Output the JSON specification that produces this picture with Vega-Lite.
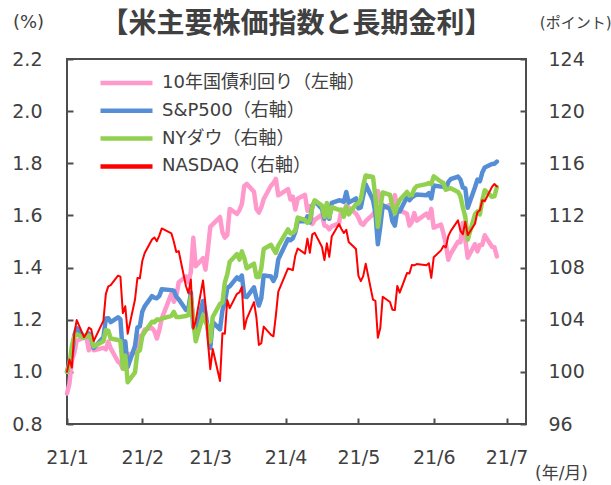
{
  "$schema": "https://vega.github.io/schema/vega-lite/v6.json",
  "width": 459,
  "height": 365,
  "autosize": {"type": "none"},
  "padding": {"left": 67, "top": 59, "right": 85, "bottom": 61},
  "background": "white",
  "config": {
    "font": "DejaVu Sans, Noto Sans CJK JP",
    "view": {"stroke": "#4d4d4d", "strokeWidth": 2},
    "axis": {
      "grid": false, "domain": false, "tickColor": "#4d4d4d", "tickWidth": 2, "tickSize": -6,
      "labelFont": "DejaVu Sans", "labelFontSize": 19, "labelColor": "#404040",
      "labelFlush": false, "labelBound": false, "labelOverlap": false,
      "titleFont": "DejaVu Sans, Noto Sans CJK JP", "titleFontWeight": "normal", "titleColor": "#404040"
    },
    "line": {"strokeJoin": "round", "strokeCap": "round"}
  },
  "title": {
    "text": "【米主要株価指数と長期金利】", "font": "Noto Sans CJK JP", "fontSize": 28, "fontWeight": "bold",
    "color": "#404040", "anchor": "middle", "frame": "group", "offset": 0, "dy": 26
  },
  "data": {"values": [
    {"d":"2021/01/04","y":0.917,"s":100,"w":100,"n":100},
    {"d":"2021/01/05","y":0.955,"s":100.71,"w":100.55,"n":100.95},
    {"d":"2021/01/06","y":1.043,"s":101.28,"w":102.00,"n":100.33},
    {"d":"2021/01/07","y":1.072,"s":102.79,"w":102.70,"n":102.91},
    {"d":"2021/01/08","y":1.119,"s":103.35,"w":102.89,"n":103.97},
    {"d":"2021/01/11","y":1.132,"s":102.67,"w":102.60,"n":102.66},
    {"d":"2021/01/12","y":1.133,"s":102.72,"w":102.80,"n":102.95},
    {"d":"2021/01/13","y":1.083,"s":102.95,"w":102.77,"n":103.39},
    {"d":"2021/01/14","y":1.129,"s":102.56,"w":102.54,"n":103.26},
    {"d":"2021/01/15","y":1.083,"s":101.83,"w":101.95,"n":102.36},
    {"d":"2021/01/19","y":1.092,"s":102.66,"w":102.34,"n":103.93},
    {"d":"2021/01/20","y":1.086,"s":104.09,"w":103.19,"n":105.98},
    {"d":"2021/01/21","y":1.116,"s":104.12,"w":103.15,"n":106.56},
    {"d":"2021/01/22","y":1.090,"s":103.81,"w":102.56,"n":106.65},
    {"d":"2021/01/25","y":1.039,"s":104.18,"w":102.44,"n":107.38},
    {"d":"2021/01/26","y":1.032,"s":104.03,"w":102.36,"n":107.30},
    {"d":"2021/01/27","y":1.012,"s":101.35,"w":100.26,"n":104.51},
    {"d":"2021/01/28","y":1.050,"s":102.34,"w":101.26,"n":105.03},
    {"d":"2021/01/29","y":1.066,"s":100.37,"w":99.20,"n":102.93},
    {"d":"2021/02/01","y":1.074,"s":101.98,"w":99.96,"n":105.55},
    {"d":"2021/02/02","y":1.102,"s":103.40,"w":101.53,"n":107.20},
    {"d":"2021/02/03","y":1.136,"s":103.50,"w":101.65,"n":107.18},
    {"d":"2021/02/04","y":1.142,"s":104.62,"w":102.75,"n":108.50},
    {"d":"2021/02/05","y":1.163,"s":105.03,"w":103.06,"n":109.12},
    {"d":"2021/02/08","y":1.168,"s":105.81,"w":103.84,"n":110.15},
    {"d":"2021/02/09","y":1.156,"s":105.69,"w":103.81,"n":110.31},
    {"d":"2021/02/10","y":1.128,"s":105.65,"w":104.02,"n":110.03},
    {"d":"2021/02/11","y":1.159,"s":105.83,"w":103.99,"n":110.45},
    {"d":"2021/02/12","y":1.204,"s":106.33,"w":104.08,"n":111.00},
    {"d":"2021/02/16","y":1.300,"s":106.27,"w":104.30,"n":110.62},
    {"d":"2021/02/17","y":1.269,"s":106.23,"w":104.60,"n":109.98},
    {"d":"2021/02/18","y":1.289,"s":105.76,"w":104.20,"n":109.19},
    {"d":"2021/02/19","y":1.344,"s":105.57,"w":104.20,"n":109.26},
    {"d":"2021/02/22","y":1.366,"s":104.75,"w":104.29,"n":106.57},
    {"d":"2021/02/23","y":1.344,"s":104.88,"w":104.35,"n":106.04},
    {"d":"2021/02/24","y":1.383,"s":106.07,"w":105.75,"n":107.08},
    {"d":"2021/02/25","y":1.514,"s":103.48,"w":103.90,"n":103.32},
    {"d":"2021/02/26","y":1.405,"s":102.99,"w":102.34,"n":103.89},
    {"d":"2021/03/01","y":1.436,"s":105.44,"w":104.34,"n":107.01},
    {"d":"2021/03/02","y":1.392,"s":104.58,"w":103.86,"n":105.20},
    {"d":"2021/03/03","y":1.468,"s":103.22,"w":103.46,"n":102.36},
    {"d":"2021/03/04","y":1.556,"s":101.83,"w":102.32,"n":100.20},
    {"d":"2021/03/05","y":1.566,"s":103.82,"w":104.21,"n":101.75},
    {"d":"2021/03/08","y":1.594,"s":103.26,"w":105.22,"n":99.30},
    {"d":"2021/03/09","y":1.535,"s":104.72,"w":105.32,"n":102.96},
    {"d":"2021/03/10","y":1.515,"s":105.35,"w":106.86,"n":102.92},
    {"d":"2021/03/11","y":1.525,"s":106.45,"w":107.48,"n":105.51},
    {"d":"2021/03/12","y":1.625,"s":106.56,"w":108.45,"n":104.89},
    {"d":"2021/03/15","y":1.606,"s":107.25,"w":109.03,"n":105.99},
    {"d":"2021/03/16","y":1.620,"s":107.08,"w":108.61,"n":106.09},
    {"d":"2021/03/17","y":1.644,"s":107.39,"w":109.24,"n":106.51},
    {"d":"2021/03/18","y":1.713,"s":105.80,"w":108.73,"n":103.29},
    {"d":"2021/03/19","y":1.721,"s":105.74,"w":107.95,"n":104.07},
    {"d":"2021/03/22","y":1.691,"s":106.48,"w":108.30,"n":105.35},
    {"d":"2021/03/23","y":1.624,"s":105.67,"w":107.28,"n":104.17},
    {"d":"2021/03/24","y":1.611,"s":105.09,"w":107.27,"n":102.07},
    {"d":"2021/03/25","y":1.631,"s":105.64,"w":107.93,"n":102.20},
    {"d":"2021/03/26","y":1.663,"s":107.40,"w":109.43,"n":103.47},
    {"d":"2021/03/29","y":1.714,"s":107.31,"w":109.75,"n":102.84},
    {"d":"2021/03/30","y":1.725,"s":106.97,"w":109.41,"n":102.73},
    {"d":"2021/03/31","y":1.740,"s":107.36,"w":109.12,"n":104.32},
    {"d":"2021/04/01","y":1.677,"s":108.63,"w":109.69,"n":106.16},
    {"d":"2021/04/05","y":1.701,"s":110.19,"w":110.93,"n":107.93},
    {"d":"2021/04/06","y":1.661,"s":110.09,"w":110.61,"n":107.87},
    {"d":"2021/04/07","y":1.672,"s":110.25,"w":110.66,"n":107.80},
    {"d":"2021/04/08","y":1.623,"s":110.71,"w":110.85,"n":108.91},
    {"d":"2021/04/09","y":1.664,"s":111.57,"w":111.83,"n":109.46},
    {"d":"2021/04/12","y":1.679,"s":111.55,"w":111.65,"n":109.07},
    {"d":"2021/04/13","y":1.618,"s":111.92,"w":111.43,"n":110.22},
    {"d":"2021/04/14","y":1.636,"s":111.46,"w":111.60,"n":109.13},
    {"d":"2021/04/15","y":1.567,"s":112.69,"w":112.61,"n":110.55},
    {"d":"2021/04/16","y":1.583,"s":113.10,"w":113.16,"n":110.66},
    {"d":"2021/04/19","y":1.603,"s":112.50,"w":112.75,"n":109.58},
    {"d":"2021/04/20","y":1.561,"s":111.74,"w":111.90,"n":108.57},
    {"d":"2021/04/21","y":1.558,"s":112.78,"w":112.95,"n":109.86},
    {"d":"2021/04/22","y":1.547,"s":111.74,"w":111.88,"n":108.82},
    {"d":"2021/04/23","y":1.558,"s":112.96,"w":112.64,"n":110.38},
    {"d":"2021/04/26","y":1.570,"s":113.16,"w":112.43,"n":111.34},
    {"d":"2021/04/27","y":1.622,"s":113.13,"w":112.44,"n":110.96},
    {"d":"2021/04/28","y":1.616,"s":113.04,"w":111.90,"n":110.65},
    {"d":"2021/04/29","y":1.637,"s":113.80,"w":112.69,"n":110.90},
    {"d":"2021/04/30","y":1.631,"s":112.98,"w":112.08,"n":109.96},
    {"d":"2021/05/03","y":1.607,"s":113.30,"w":112.87,"n":109.42},
    {"d":"2021/05/04","y":1.592,"s":112.54,"w":112.93,"n":107.36},
    {"d":"2021/05/05","y":1.570,"s":112.62,"w":113.26,"n":106.96},
    {"d":"2021/05/06","y":1.564,"s":113.54,"w":114.31,"n":107.36},
    {"d":"2021/05/07","y":1.578,"s":114.37,"w":115.07,"n":108.30},
    {"d":"2021/05/10","y":1.604,"s":113.18,"w":114.95,"n":105.54},
    {"d":"2021/05/11","y":1.620,"s":112.20,"w":113.38,"n":105.44},
    {"d":"2021/05/12","y":1.694,"s":109.79,"w":111.13,"n":102.62},
    {"d":"2021/05/13","y":1.659,"s":111.13,"w":112.56,"n":103.36},
    {"d":"2021/05/14","y":1.628,"s":112.79,"w":113.76,"n":105.76},
    {"d":"2021/05/17","y":1.641,"s":112.50,"w":113.58,"n":105.36},
    {"d":"2021/05/18","y":1.634,"s":111.54,"w":112.69,"n":104.77},
    {"d":"2021/05/19","y":1.678,"s":111.22,"w":112.15,"n":104.74},
    {"d":"2021/05/20","y":1.626,"s":112.39,"w":112.77,"n":106.59},
    {"d":"2021/05/21","y":1.620,"s":112.30,"w":113.18,"n":106.08},
    {"d":"2021/05/24","y":1.606,"s":113.41,"w":113.80,"n":107.58},
    {"d":"2021/05/25","y":1.561,"s":113.17,"w":113.53,"n":107.55},
    {"d":"2021/05/26","y":1.575,"s":113.39,"w":113.56,"n":108.19},
    {"d":"2021/05/27","y":1.609,"s":113.52,"w":114.03,"n":108.17},
    {"d":"2021/05/28","y":1.580,"s":113.60,"w":114.25,"n":108.27},
    {"d":"2021/06/01","y":1.607,"s":113.55,"w":114.40,"n":108.17},
    {"d":"2021/06/02","y":1.591,"s":113.71,"w":114.48,"n":108.33},
    {"d":"2021/06/03","y":1.625,"s":113.30,"w":114.40,"n":107.21},
    {"d":"2021/06/04","y":1.553,"s":114.30,"w":115.00,"n":108.79},
    {"d":"2021/06/07","y":1.565,"s":114.21,"w":114.58,"n":109.32},
    {"d":"2021/06/08","y":1.531,"s":114.23,"w":114.48,"n":109.66},
    {"d":"2021/06/09","y":1.489,"s":114.02,"w":113.97,"n":109.55},
    {"d":"2021/06/10","y":1.430,"s":114.55,"w":114.04,"n":110.41},
    {"d":"2021/06/11","y":1.453,"s":114.78,"w":114.08,"n":110.80},
    {"d":"2021/06/14","y":1.499,"s":114.98,"w":113.80,"n":111.62},
    {"d":"2021/06/15","y":1.497,"s":114.75,"w":113.48,"n":110.82},
    {"d":"2021/06/16","y":1.571,"s":114.13,"w":112.61,"n":110.56},
    {"d":"2021/06/17","y":1.508,"s":114.08,"w":111.91,"n":111.52},
    {"d":"2021/06/18","y":1.438,"s":112.59,"w":110.14,"n":110.49},
    {"d":"2021/06/21","y":1.490,"s":114.16,"w":112.09,"n":111.36},
    {"d":"2021/06/22","y":1.462,"s":114.75,"w":112.31,"n":112.24},
    {"d":"2021/06/23","y":1.487,"s":114.62,"w":112.08,"n":112.39},
    {"d":"2021/06/24","y":1.487,"s":115.29,"w":113.14,"n":113.16},
    {"d":"2021/06/25","y":1.524,"s":115.67,"w":113.93,"n":113.09},
    {"d":"2021/06/28","y":1.480,"s":115.94,"w":113.43,"n":114.19},
    {"d":"2021/06/29","y":1.478,"s":115.97,"w":113.46,"n":114.41},
    {"d":"2021/06/30","y":1.443,"s":116.13,"w":114.16,"n":114.22}
  ]},
  "encoding": {
    "x": {
      "field": "d", "type": "temporal",
      "scale": {"domain": [{"year": 2021, "month": 1, "date": 4}, {"year": 2021, "month": 7, "date": 12}]},
      "axis": {
        "values": [
          {"year": 2021, "month": 1, "date": 4}, {"year": 2021, "month": 2, "date": 4},
          {"year": 2021, "month": 3, "date": 4}, {"year": 2021, "month": 4, "date": 4},
          {"year": 2021, "month": 5, "date": 4}, {"year": 2021, "month": 6, "date": 4},
          {"year": 2021, "month": 7, "date": 4}
        ],
        "format": "%y/%-m", "labelPadding": 30, "labelAlign": "center",
        "title": "(年/月)", "titleFontSize": 17, "titleX": 494, "titleY": 49,
        "titleAlign": "center", "titleBaseline": "middle", "titleAngle": 0
      }
    }
  },
  "layer": [
    {
      "mark": {"type": "line", "strokeWidth": 4.5},
      "encoding": {
        "y": {
          "field": "y", "type": "quantitative",
          "scale": {"domain": [0.8, 2.2], "zero": false, "nice": false},
          "axis": {
            "orient": "left", "values": [0.8, 1.0, 1.2, 1.4, 1.6, 1.8, 2.0, 2.2], "format": ".1f",
            "labelPadding": 31, "title": "(%)", "titleFontSize": 18, "titleAngle": 0,
            "titleAlign": "center", "titleBaseline": "middle", "titleX": -39, "titleY": -37
          }
        },
        "color": {
          "datum": "10年国債利回り（左軸）", "type": "nominal",
          "scale": {"domain": ["10年国債利回り（左軸）", "S&P500（右軸）", "NYダウ（右軸）", "NASDAQ（右軸）"], "range": ["#FF99CC", "#558ED5", "#92D050", "#FF0000"]},
          "legend": {
            "orient": "none", "legendX": 31, "legendY": 12, "title": null, "symbolType": "stroke", "symbolSize": 2704,
            "symbolStrokeWidth": 4.5, "clipHeight": 24, "rowPadding": 3.8, "labelOffset": 7, "labelFontSize": 18,
            "labelFont": "DejaVu Sans, Noto Sans CJK JP", "labelColor": "#404040", "labelLimit": 400, "padding": 0
          }
        }
      }
    },
    {
      "encoding": {
        "y": {
          "type": "quantitative",
          "scale": {"domain": [96, 124], "zero": false, "nice": false},
          "axis": {
            "orient": "right", "values": [96, 100, 104, 108, 112, 116, 120, 124],
            "labelPadding": 28, "title": "(ポイント)", "titleFontSize": 15, "titleAngle": 0,
            "titleAlign": "right", "titleBaseline": "middle", "titleX": 85, "titleY": -37
          }
        }
      },
      "layer": [
        {
          "mark": {"type": "line", "strokeWidth": 4.5},
          "encoding": {
            "y": {"field": "s", "type": "quantitative"},
            "color": {"datum": "S&P500（右軸）", "type": "nominal"}
          }
        },
        {
          "mark": {"type": "line", "strokeWidth": 4.5},
          "encoding": {
            "y": {"field": "w", "type": "quantitative"},
            "color": {"datum": "NYダウ（右軸）", "type": "nominal"}
          }
        },
        {
          "mark": {"type": "line", "strokeWidth": 2},
          "encoding": {
            "y": {"field": "n", "type": "quantitative"},
            "color": {"datum": "NASDAQ（右軸）", "type": "nominal"}
          }
        }
      ]
    }
  ],
  "resolve": {"scale": {"y": "independent"}}
}
